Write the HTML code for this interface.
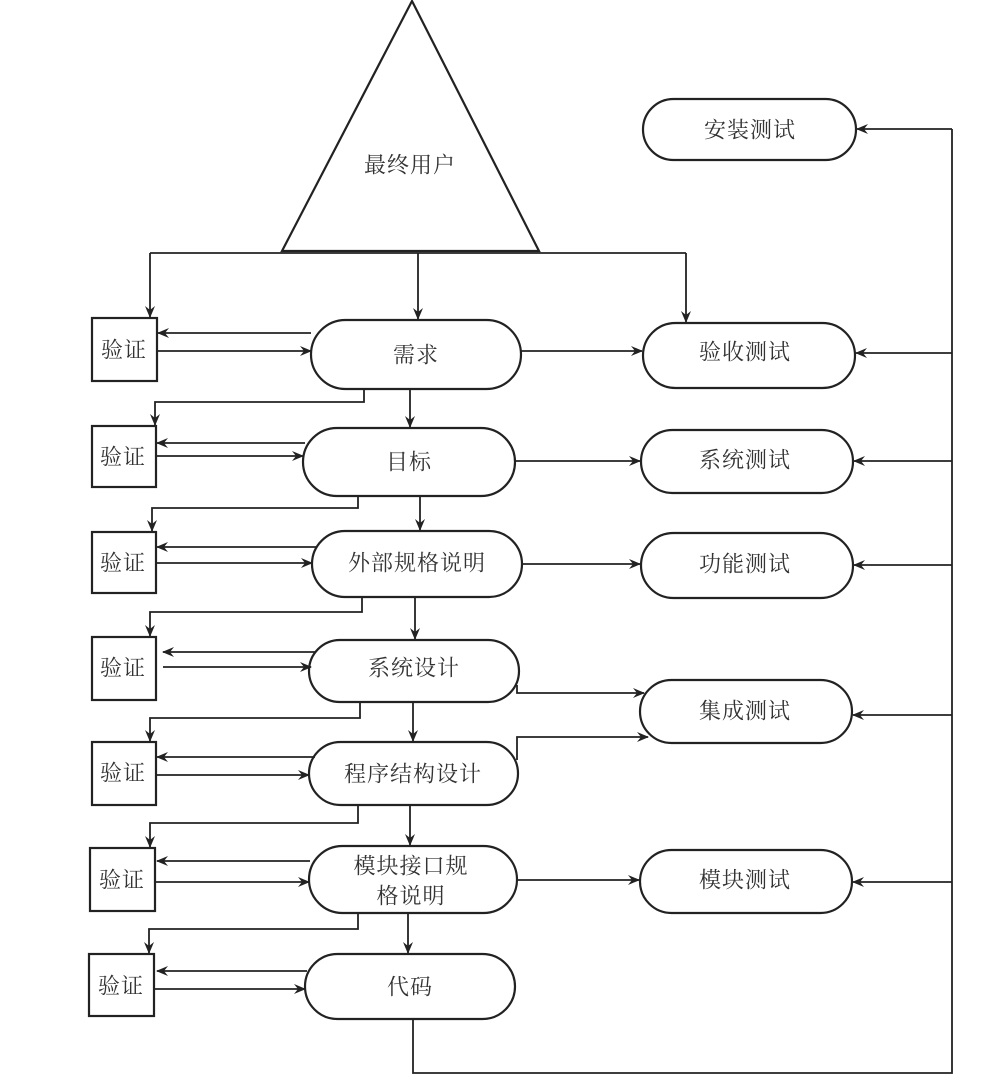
<!DOCTYPE html>
<html><head><meta charset="utf-8"><style>
html,body{margin:0;padding:0;background:#fff;}
svg{display:block;}
text{font-family:"Liberation Serif","Noto Serif CJK SC","Noto Sans CJK SC",serif;font-size:22px;letter-spacing:1px;fill:#333;text-anchor:middle;dominant-baseline:central;}
.s{fill:#fff;stroke:#222;stroke-width:2.2;}
.l{fill:none;stroke:#222;stroke-width:1.8;}
</style></head><body>
<svg width="996" height="1081" viewBox="0 0 996 1081" xmlns="http://www.w3.org/2000/svg">
<defs>
<marker id="a" viewBox="0 0 12 10" refX="11" refY="5" markerWidth="12" markerHeight="10" markerUnits="userSpaceOnUse" orient="auto">
<path d="M0,0 L12,5 L0,10 L4,5 Z" fill="#222"/></marker>
</defs>
<polygon class="s" points="412,1 282,251 539,251"/>
<text x="410" y="165">最终用户</text>
<polyline class="l" points="150,253 686,253"/>
<polyline class="l" points="150,253 150,317" marker-end="url(#a)"/>
<polyline class="l" points="418,253 418,319" marker-end="url(#a)"/>
<polyline class="l" points="686,253 686,322" marker-end="url(#a)"/>

<g>
<rect class="s" x="92" y="318" width="65" height="63"/><text x="124" y="350">验证</text>
<rect class="s" x="92" y="426" width="64" height="61"/><text x="123" y="457">验证</text>
<rect class="s" x="92" y="532" width="64" height="61"/><text x="123" y="563">验证</text>
<rect class="s" x="92" y="637" width="64" height="63"/><text x="123" y="668">验证</text>
<rect class="s" x="92" y="742" width="64" height="63"/><text x="123" y="773">验证</text>
<rect class="s" x="90" y="848" width="65" height="63"/><text x="122" y="880">验证</text>
<rect class="s" x="89" y="954" width="65" height="62"/><text x="121" y="986">验证</text>
</g>

<rect class="s" x="311" y="320" width="210" height="69" rx="34.5"/><text x="416" y="355">需求</text>
<rect class="s" x="303" y="428" width="212" height="68" rx="34"/><text x="409" y="462">目标</text>
<rect class="s" x="312" y="531" width="210" height="66" rx="33"/><text x="417" y="563">外部规格说明</text>
<rect class="s" x="309" y="640" width="210" height="62" rx="31"/><text x="414" y="668">系统设计</text>
<rect class="s" x="309" y="742" width="209" height="63" rx="31.5"/><text x="413" y="774">程序结构设计</text>
<rect class="s" x="309" y="846" width="208" height="67" rx="33.5"/><text x="411" y="866">模块接口规</text><text x="411" y="896">格说明</text>
<rect class="s" x="305" y="954" width="210" height="65" rx="32.5"/><text x="410" y="987">代码</text>

<rect class="s" x="643" y="99" width="213" height="61" rx="30.5"/><text x="750" y="130">安装测试</text>
<rect class="s" x="643" y="323" width="212" height="65" rx="32.5"/><text x="745" y="352">验收测试</text>
<rect class="s" x="641" y="430" width="212" height="63" rx="31.5"/><text x="745" y="460">系统测试</text>
<rect class="s" x="641" y="533" width="212" height="65" rx="32.5"/><text x="745" y="564">功能测试</text>
<rect class="s" x="640" y="680" width="212" height="63" rx="31.5"/><text x="745" y="711">集成测试</text>
<rect class="s" x="640" y="850" width="212" height="63" rx="31.5"/><text x="745" y="880">模块测试</text>

<g class="l">
<line x1="311" y1="333" x2="158" y2="333" marker-end="url(#a)"/><line x1="157" y1="351" x2="311" y2="351" marker-end="url(#a)"/>
<line x1="305" y1="443" x2="157" y2="443" marker-end="url(#a)"/><line x1="156" y1="456" x2="303" y2="456" marker-end="url(#a)"/>
<line x1="316" y1="547" x2="157" y2="547" marker-end="url(#a)"/><line x1="156" y1="563" x2="312" y2="563" marker-end="url(#a)"/>
<line x1="316" y1="652" x2="163" y2="652" marker-end="url(#a)"/><line x1="163" y1="667" x2="311" y2="667" marker-end="url(#a)"/>
<line x1="315" y1="757" x2="157" y2="757" marker-end="url(#a)"/><line x1="156" y1="775" x2="309" y2="775" marker-end="url(#a)"/>
<line x1="310" y1="861" x2="157" y2="861" marker-end="url(#a)"/><line x1="155" y1="882" x2="309" y2="882" marker-end="url(#a)"/>
<line x1="307" y1="971" x2="157" y2="971" marker-end="url(#a)"/><line x1="154" y1="989" x2="305" y2="989" marker-end="url(#a)"/>
</g>

<g class="l">
<line x1="410" y1="389" x2="410" y2="427" marker-end="url(#a)"/>
<line x1="420" y1="496" x2="420" y2="530" marker-end="url(#a)"/>
<line x1="415" y1="597" x2="415" y2="639" marker-end="url(#a)"/>
<line x1="413" y1="702" x2="413" y2="741" marker-end="url(#a)"/>
<line x1="410" y1="805" x2="410" y2="845" marker-end="url(#a)"/>
<line x1="408" y1="913" x2="408" y2="953" marker-end="url(#a)"/>
</g>

<g class="l">
<polyline points="364,389 364,402 155,402 155,425" marker-end="url(#a)"/>
<polyline points="358,496 358,508 152,508 152,531" marker-end="url(#a)"/>
<polyline points="362,597 362,612 150,612 150,636" marker-end="url(#a)"/>
<polyline points="360,702 360,718 150,718 150,741" marker-end="url(#a)"/>
<polyline points="358,805 358,823 150,823 150,847" marker-end="url(#a)"/>
<polyline points="358,913 358,929 149,929 149,953" marker-end="url(#a)"/>
</g>

<g class="l">
<line x1="521" y1="351" x2="642" y2="351" marker-end="url(#a)"/>
<line x1="515" y1="461" x2="640" y2="461" marker-end="url(#a)"/>
<line x1="522" y1="564" x2="640" y2="564" marker-end="url(#a)"/>
<polyline points="517,685 517,693 644,693" marker-end="url(#a)"/>
<polyline points="517,760 517,737 648,737" marker-end="url(#a)"/>
<line x1="517" y1="880" x2="639" y2="880" marker-end="url(#a)"/>
</g>

<g class="l">
<polyline points="413,1019 413,1073 952,1073 952,129"/>
<line x1="952" y1="129" x2="857" y2="129" marker-end="url(#a)"/>
<line x1="952" y1="353" x2="856" y2="353" marker-end="url(#a)"/>
<line x1="952" y1="461" x2="854" y2="461" marker-end="url(#a)"/>
<line x1="952" y1="565" x2="854" y2="565" marker-end="url(#a)"/>
<line x1="952" y1="715" x2="853" y2="715" marker-end="url(#a)"/>
<line x1="952" y1="882" x2="853" y2="882" marker-end="url(#a)"/>
</g>
</svg>
</body></html>
